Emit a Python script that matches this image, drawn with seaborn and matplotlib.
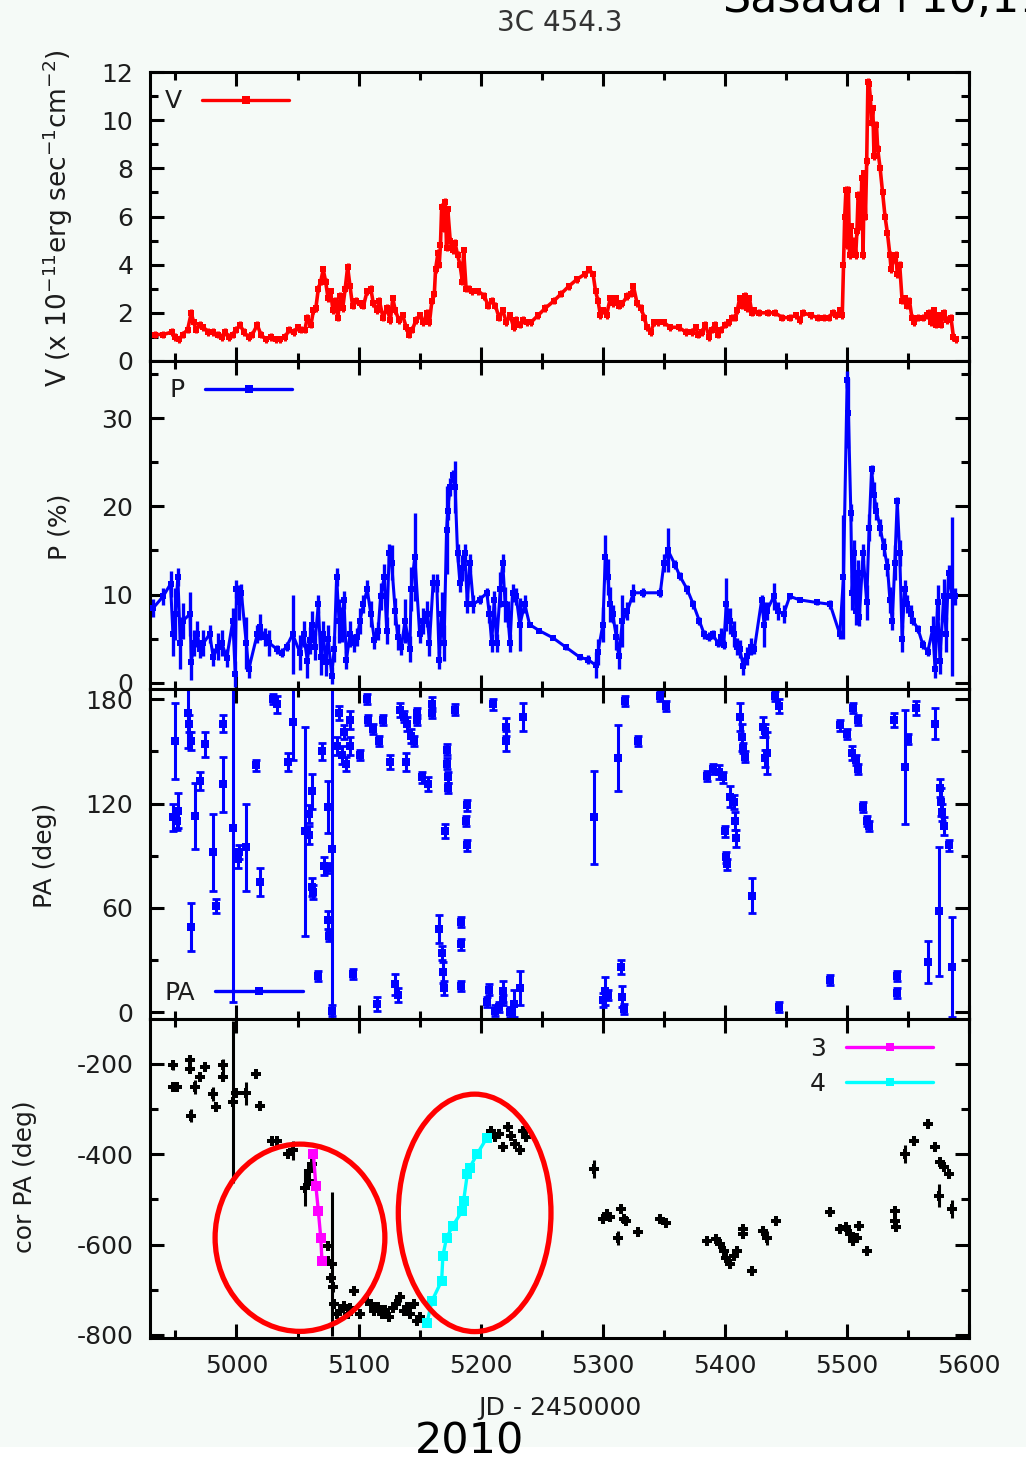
import numpy as np
import pandas as pd
import matplotlib
matplotlib.use('Agg')
import matplotlib.pyplot as plt
import seaborn as sns
from matplotlib.patches import Ellipse, Rectangle
from matplotlib.ticker import MultipleLocator
from matplotlib.lines import Line2D

# ---------------- data ----------------
v_jd = [4933, 4940, 4947, 4950, 4953, 4956, 4960, 4963, 4965, 4967,
        4970, 4973, 4977, 4981, 4985, 4988, 4991, 4994, 4997, 5000,
        5003, 5006, 5010, 5013, 5017, 5020, 5024, 5028, 5032, 5036,
        5040, 5043, 5047, 5050, 5053, 5056, 5058, 5061, 5063, 5065,
        5067, 5069, 5071, 5073, 5075, 5077, 5079, 5081, 5083, 5085,
        5087, 5089, 5091, 5093, 5095, 5098, 5101, 5104, 5107, 5110,
        5112, 5115, 5117, 5120, 5123, 5126, 5128, 5130, 5133, 5136,
        5139, 5141, 5144, 5147, 5150, 5153, 5156, 5158, 5160, 5162,
        5163, 5165, 5166, 5167, 5168, 5170, 5171, 5172, 5173, 5175,
        5177, 5179, 5181, 5183, 5185, 5186, 5188, 5190, 5193, 5198,
        5203, 5206, 5209, 5212, 5215, 5218, 5221, 5224, 5227, 5229,
        5232, 5235, 5238, 5241, 5247, 5253, 5260, 5266, 5272, 5279,
        5285, 5289, 5292, 5294, 5296, 5298, 5300, 5303, 5306, 5308,
        5311, 5313, 5316, 5320, 5323, 5325, 5328, 5331, 5334, 5336,
        5339, 5342, 5345, 5350, 5355, 5362, 5368, 5373, 5376, 5378,
        5381, 5384, 5387, 5389, 5392, 5394, 5397, 5400, 5403, 5406,
        5408, 5410, 5412, 5414, 5416, 5418, 5420, 5422, 5424, 5428,
        5435, 5441, 5447, 5453, 5458, 5461, 5464, 5470, 5476, 5481,
        5485, 5488, 5491, 5494, 5496, 5497, 5498, 5499, 5500, 5501,
        5502, 5503, 5504, 5506, 5507, 5508, 5509, 5510, 5511, 5512,
        5513, 5514, 5515, 5516, 5517, 5518, 5519, 5520, 5521, 5522,
        5524, 5525, 5527, 5529, 5531, 5533, 5535, 5536, 5538, 5540,
        5541, 5543, 5545, 5547, 5549, 5551, 5553, 5555, 5558, 5562,
        5565, 5567, 5569, 5571, 5573, 5575, 5577, 5579, 5582, 5585,
        5587, 5589]
v_val = [1.1, 1.1, 1.2, 1.0, 0.9, 1.1, 1.3, 2.0, 1.6, 1.3,
         1.5, 1.4, 1.2, 1.2, 1.1, 1.0, 1.2, 1.0, 1.1, 1.3,
         1.5, 1.2, 1.0, 1.1, 1.5, 1.1, 0.9, 1.0, 0.9, 0.9,
         1.0, 1.3, 1.2, 1.4, 1.3, 1.3, 1.8, 1.5, 2.1, 2.2,
         3.0, 3.3, 3.8, 3.3, 2.6, 2.9, 2.1, 2.5, 1.8, 2.7,
         2.2, 3.0, 3.9, 3.1, 2.3, 2.5, 2.4, 2.3, 2.9, 3.0,
         2.4, 2.1, 2.5, 1.8, 2.2, 1.7, 2.6, 2.1, 1.7, 1.9,
         1.4, 1.1, 1.3, 1.7, 1.9, 1.6, 2.0, 1.6, 2.5, 2.8,
         3.8, 4.5, 4.0, 4.8, 6.4, 5.5, 6.6, 4.7, 6.3, 5.0,
         4.6, 4.9, 4.4, 4.0, 3.3, 4.6, 3.0, 3.0, 2.9, 2.9,
         2.7, 2.3, 2.5, 2.3, 1.8, 2.1, 1.6, 1.9, 1.4, 1.7,
         1.5, 1.7, 1.6, 1.6, 1.9, 2.2, 2.5, 2.8, 3.1, 3.4,
         3.6, 3.8, 3.6, 2.9, 2.5, 1.9, 2.1, 1.9, 2.6, 2.4,
         2.6, 2.3, 2.4, 2.7, 2.8, 3.1, 2.4, 2.2, 1.8, 1.4,
         1.2, 1.6, 1.6, 1.6, 1.4, 1.4, 1.2, 1.2, 1.4, 1.1,
         1.2, 1.5, 1.0, 1.3, 1.5, 1.1, 1.3, 1.5, 1.6, 1.8,
         1.8, 2.1, 2.6, 2.3, 2.7, 2.2, 2.6, 2.0, 2.1, 2.0,
         2.0, 2.0, 1.8, 1.8, 1.9, 1.7, 2.0, 1.9, 1.8, 1.8,
         1.8, 2.0, 1.9, 2.1, 1.9, 4.0, 6.0, 7.1, 4.8, 7.1,
         4.4, 5.6, 4.5, 5.0, 4.4, 5.4, 6.9, 6.8, 5.6, 7.6,
         4.4, 7.8, 6.0, 8.3, 11.6, 11.5, 10.9, 9.9, 10.5, 8.5,
         9.8, 8.8, 8.0, 7.0, 6.0, 5.3, 4.4, 3.8, 4.2, 4.4,
         3.6, 4.0, 2.5, 2.6, 2.3, 2.5, 1.8, 1.6, 1.8, 1.8,
         1.9, 2.0, 1.6, 2.1, 1.5, 1.9, 1.5, 2.0, 1.7, 1.8,
         1.0, 0.9]

p_jd = [4932, 4940, 4946, 4948, 4950, 4952, 4954, 4956, 4962, 4963,
        4965, 4968, 4970, 4973, 4978, 4981, 4985, 4988, 4992, 4997,
        4999, 5000, 5002, 5004, 5008, 5010, 5017, 5019, 5023, 5027,
        5033, 5037, 5041, 5046, 5052, 5055, 5058, 5060, 5062, 5064,
        5067, 5069, 5071, 5073, 5075, 5078, 5080, 5082, 5084, 5086,
        5088, 5090, 5093, 5096, 5099, 5101, 5104, 5107, 5110, 5113,
        5116, 5118, 5121, 5123, 5125, 5127, 5130, 5132, 5135, 5138,
        5142, 5143, 5146, 5150, 5153, 5156, 5158, 5161, 5164, 5166,
        5168, 5170, 5172, 5173, 5175, 5177, 5179, 5181, 5183, 5185,
        5187, 5189, 5191, 5194, 5199, 5205, 5207, 5209, 5211, 5213,
        5216, 5218, 5220, 5222, 5224, 5226, 5229, 5232, 5236, 5240,
        5248, 5259, 5270, 5281, 5288, 5294, 5296, 5300, 5302, 5304,
        5306, 5308, 5311, 5313, 5316, 5320, 5325, 5333, 5347, 5350,
        5353, 5359, 5363, 5369, 5374, 5379, 5383, 5387, 5390, 5394,
        5397, 5399, 5401, 5404, 5407, 5410, 5412, 5415, 5418, 5421,
        5424, 5430, 5432, 5434, 5440, 5443, 5448, 5453, 5461, 5475,
        5486, 5494, 5497, 5500, 5501, 5503, 5504, 5506, 5507, 5509,
        5510, 5513, 5516, 5518, 5520, 5522, 5524, 5527, 5530, 5533,
        5535, 5537, 5539, 5541, 5543, 5545, 5547, 5549, 5552, 5554,
        5558, 5562, 5566, 5570, 5572, 5574, 5576, 5579, 5581, 5583,
        5586, 5588]
p_val = [8.5, 9.8, 11.2, 5.5, 7.8, 12.0, 4.5, 7.0, 7.8, 2.3,
         4.5, 5.5, 3.8, 4.5, 5.5, 2.9, 4.1, 4.5, 2.8, 7.0,
         1.0, 10.6, 9.1, 10.2, 4.5, 1.5, 5.5, 6.3, 5.2, 4.5,
         3.8, 3.4, 4.1, 5.5, 3.4, 5.5, 2.5, 4.8, 6.6, 4.1,
         8.9, 2.9, 5.5, 2.3, 5.0, 0.8, 3.8, 12.0, 7.0, 6.6,
         9.4, 2.6, 5.5, 4.5, 5.2, 7.0, 8.9, 10.6, 7.8, 4.8,
         5.9, 9.8, 12.0, 5.9, 14.7, 13.6, 8.1, 5.2, 4.1, 7.0,
         3.8, 10.6, 14.3, 5.5, 7.0, 7.8, 4.5, 11.3, 11.3, 2.6,
         7.8, 4.5, 17.3, 19.5, 22.2, 23.6, 22.2, 14.7, 11.3, 13.0,
         14.7, 8.9, 13.6, 8.9, 9.4, 10.2, 7.8, 4.5, 9.4, 4.5,
         10.6, 13.6, 8.9, 7.8, 4.5, 10.2, 9.8, 6.6, 8.9, 6.6,
         5.9, 5.1, 4.0, 2.9, 2.6, 2.0, 3.5, 6.6, 14.3, 12.0,
         8.9, 7.8, 5.2, 3.0, 7.0, 8.1, 10.2, 10.2, 10.2, 13.6,
         15.1, 13.4, 12.1, 10.6, 8.9, 7.0, 5.5, 5.2, 5.5, 4.5,
         5.2, 4.3, 8.9, 7.0, 5.5, 4.1, 3.8, 1.9, 3.0, 4.1,
         3.8, 9.4, 6.6, 8.1, 9.8, 8.1, 7.8, 9.8, 9.4, 9.1,
         8.9, 5.5, 12.0, 34.4, 30.6, 19.3, 10.2, 14.7, 8.1, 12.4,
         7.4, 14.7, 9.1, 17.6, 24.2, 21.3, 19.5, 17.6, 15.4, 13.1,
         9.4, 7.0, 13.6, 20.6, 14.7, 5.0, 10.6, 8.9, 7.8, 7.0,
         6.1, 4.3, 3.5, 6.1, 1.5, 9.1, 2.5, 9.8, 5.5, 12.4,
         9.8, 9.8]
p_err = [1.0, 1.0, 1.5, 2.5, 3.0, 1.0, 3.0, 2.0, 2.5, 2.0,
         1.5, 1.5, 1.0, 1.5, 1.0, 1.0, 1.5, 1.5, 1.0, 1.5,
         1.5, 1.0, 2.0, 1.0, 3.0, 1.0, 1.0, 1.5, 1.0, 1.5,
         0.5, 0.5, 0.5, 4.5, 2.0, 1.5, 2.0, 1.5, 1.5, 1.5,
         1.0, 2.0, 1.5, 1.5, 1.5, 1.0, 1.5, 1.0, 2.5, 2.0,
         1.0, 1.0, 1.5, 1.0, 1.0, 1.5, 1.0, 1.0, 1.5, 1.0,
         1.0, 1.5, 1.5, 1.5, 1.0, 2.0, 1.5, 1.5, 1.0, 2.5,
         1.5, 2.5, 5.0, 1.0, 1.5, 1.5, 1.5, 1.0, 1.0, 1.0,
         2.5, 2.0, 5.0, 1.0, 1.0, 0.5, 3.0, 1.0, 1.0, 1.5,
         1.0, 1.0, 1.0, 1.0, 0.5, 0.5, 1.0, 1.0, 1.0, 1.0,
         2.0, 1.0, 2.0, 1.5, 1.0, 1.0, 1.0, 3.0, 1.0, 0.3,
         0.3, 0.3, 0.3, 0.3, 0.5, 1.5, 1.5, 2.0, 2.5, 2.0,
         2.0, 1.0, 1.5, 1.5, 3.0, 1.0, 1.0, 0.5, 0.5, 1.0,
         2.5, 0.5, 0.5, 0.5, 0.5, 0.5, 0.5, 0.5, 0.5, 0.5,
         1.0, 0.5, 3.0, 1.5, 1.5, 1.0, 1.0, 1.0, 1.0, 1.0,
         0.5, 0.5, 2.5, 1.0, 1.5, 1.0, 1.0, 0.3, 0.3, 0.3,
         0.5, 0.5, 7.0, 1.0, 4.0, 1.0, 2.0, 1.5, 1.5, 1.5,
         1.0, 1.0, 2.0, 1.5, 0.5, 1.5, 1.0, 1.0, 1.0, 1.0,
         1.5, 1.0, 2.0, 0.5, 1.5, 1.5, 1.0, 1.0, 1.0, 0.5,
         0.5, 0.5, 0.5, 1.5, 1.0, 2.0, 1.5, 2.0, 2.0, 1.0,
         9.0, 1.0]

pa_jd = [4948, 4950, 4951, 4952, 4960, 4961, 4963, 4963, 4966, 4970,
         4974, 4981, 4983, 4989, 4989, 4997, 5001, 5002, 5008, 5016,
         5019, 5030, 5033, 5042, 5046, 5056, 5059, 5059, 5062, 5062,
         5063, 5067, 5070, 5072, 5074, 5075, 5075, 5076, 5078, 5078,
         5082, 5084, 5086, 5088, 5090, 5093, 5093, 5095, 5101, 5107,
         5108, 5112, 5115, 5117, 5120, 5126, 5130, 5132, 5134, 5137,
         5139, 5140, 5143, 5145, 5148, 5148, 5152, 5157, 5160, 5160,
         5166, 5168, 5169, 5170, 5171, 5172, 5172, 5173, 5173, 5179,
         5184, 5184, 5184, 5188, 5189, 5189, 5205, 5207, 5210, 5212,
         5215, 5218, 5218, 5221, 5221, 5224, 5227, 5232, 5235, 5293,
         5300, 5302, 5304, 5312, 5315, 5316, 5317, 5318, 5329, 5347,
         5352, 5385, 5390, 5395, 5398, 5400, 5401, 5402, 5404, 5407,
         5408, 5409, 5412, 5414, 5415, 5416, 5422, 5431, 5433, 5433,
         5434, 5441, 5444, 5444, 5486, 5494, 5500, 5504, 5505, 5507,
         5509, 5509, 5513, 5516, 5518, 5538, 5541, 5541, 5547, 5550,
         5556, 5566, 5572, 5575, 5576, 5577, 5578, 5579, 5583, 5586]
pa_val = [112, 156, 110, 116, 172, 166, 156, 49, 113, 133,
          154, 92, 61, 166, 131, 106, 88, 92, 95, 142,
          75, 180, 177, 144, 167, 104, 114, 102, 127, 72,
          69, 21, 150, 84, 83, 118, 53, 44, 94, 1,
          153, 172, 148, 161, 143, 168, 153, 22, 148, 180,
          168, 163, 5, 156, 168, 144, 16, 10, 174, 170,
          144, 166, 159, 156, 172, 168, 135, 131, 177, 172,
          48, 34, 23, 14, 104, 151, 143, 135, 129, 174,
          52, 39, 15, 110, 119, 96, 6, 13, 177, 1,
          3, 7, 12, 164, 156, 0, 5, 14, 170, 112,
          7, 12, 10, 146, 26, 9, 2, 179, 156, 182,
          176, 136, 140, 138, 135, 104, 89, 85, 124, 121,
          110, 100, 170, 158, 152, 147, 67, 164, 162, 146,
          149, 182, 176, 3, 18.5, 165, 160, 149, 175, 145,
          168, 140, 118, 110, 107, 168, 21, 11, 141, 157,
          175, 29, 166, 58, 129, 121, 115, 107, 96, 26]
pa_err = [8, 22, 5, 10, 20, 5, 5, 14, 19, 5,
          7, 22, 4, 5, 16, 100, 5, 4, 25, 3,
          8, 3, 5, 5, 22, 60, 5, 5, 10, 5,
          4, 3, 5, 5, 3, 15, 5, 3, 100, 3,
          5, 4, 5, 4, 4, 5, 5, 3, 3, 3,
          3, 3, 4, 3, 3, 4, 6, 4, 4, 3,
          5, 4, 4, 3, 3, 3, 3, 4, 4, 3,
          8, 4, 6, 4, 4, 3, 3, 3, 3, 3,
          3, 3, 3, 3, 3, 3, 3, 3, 3, 3,
          3, 3, 6, 5, 6, 3, 8, 10, 8, 27,
          4, 8, 3, 19, 4, 6, 3, 3, 3, 3,
          3, 3, 3, 4, 3, 3, 3, 3, 6, 4,
          5, 5, 8, 8, 3, 3, 10, 6, 4, 5,
          12, 3, 4, 3, 3, 3, 3, 4, 3, 3,
          3, 3, 3, 3, 3, 4, 3, 3, 33, 3,
          4, 12, 9, 37, 5, 8, 5, 5, 3, 29]

cor_jd = [4948, 4948, 4951, 4962, 4962, 4963, 4966, 4970, 4974, 4981,
          4983, 4989, 4989, 4997, 5000, 5008, 5016, 5019, 5029, 5033,
          5042, 5046, 5056, 5059, 5059, 5062, 5075, 5075, 5078, 5077,
          5079, 5080, 5082, 5085, 5088, 5091, 5093, 5096, 5101, 5107,
          5110, 5113, 5116, 5119, 5122, 5125, 5128, 5131, 5134, 5137,
          5140, 5142, 5145, 5148, 5150, 5208, 5212, 5215, 5218, 5222,
          5225, 5228, 5232, 5235, 5237, 5293, 5300, 5303, 5306, 5312,
          5315, 5317, 5319, 5329, 5347, 5352, 5385, 5393, 5396, 5399,
          5401, 5404, 5407, 5410, 5415, 5415, 5422, 5431, 5434, 5442,
          5486, 5494, 5499, 5502, 5505, 5508, 5510, 5516, 5539, 5539,
          5540, 5547, 5555, 5566, 5572, 5576, 5579, 5583, 5575, 5586]
cor_val = [-204, -252, -252, -193, -211, -315, -252, -230, -208, -267,
           -297, -204, -230, -285, -266, -266, -223, -293, -370, -370,
           -400, -392, -474, -437, -459, -422, -603, -636, -643, -673,
           -695, -731, -753, -746, -735, -753, -740, -703, -753, -725,
           -731, -746, -738, -753, -745, -761, -740, -731, -717, -746,
           -738, -753, -731, -768, -760, -348, -363, -355, -385, -341,
           -359, -378, -392, -348, -363, -433, -544, -533, -540, -585,
           -522, -544, -548, -573, -544, -552, -592, -588, -599, -614,
           -629, -643, -625, -614, -566, -577, -658, -570, -585, -548,
           -529, -566, -562, -577, -592, -585, -559, -614, -525, -548,
           -562, -400, -370, -333, -385, -418, -429, -444, -492, -521]
cor_err = [10, 5, 5, 8, 5, 15, 15, 5, 5, 15,
           5, 15, 8, 180, 8, 25, 5, 5, 5, 5,
           5, 20, 40, 8, 8, 8, 10, 8, 160, 8,
           10, 10, 8, 8, 8, 8, 5, 5, 5, 5,
           5, 5, 5, 5, 5, 5, 5, 5, 10, 5,
           5, 5, 5, 5, 5, 5, 8, 5, 5, 5,
           5, 5, 5, 5, 5, 20, 5, 8, 5, 15,
           8, 5, 5, 5, 5, 5, 5, 5, 5, 8,
           5, 8, 8, 5, 5, 5, 5, 10, 15, 5,
           5, 5, 5, 5, 5, 5, 5, 5, 5, 8,
           5, 20, 5, 10, 5, 5, 5, 5, 25, 20]

seq3_jd = [5063, 5065, 5067, 5069, 5070]
seq3_val = [-400, -470, -525, -585, -636]
seq3_err = [8, 8, 8, 8, 8]

seq4_jd = [5156, 5160, 5168, 5169, 5172, 5177, 5185, 5186, 5189, 5191, 5197, 5205]
seq4_val = [-773, -725, -680, -625, -585, -559, -525, -503, -444, -430, -400, -364]
seq4_err = [8, 8, 8, 8, 8, 8, 8, 8, 8, 8, 8, 8]

x_ticks = [5000, 5100, 5200, 5300, 5400, 5500, 5600]

# ---------------- style ----------------
sns.set_style('ticks')
BG = '#f5faf7'
TXT = '#1c1c1c'
plt.rcParams['font.family'] = ['DejaVu Sans']
plt.rcParams['mathtext.fontset'] = 'dejavusans'
plt.rcParams['axes.unicode_minus'] = False

fig = plt.figure(figsize=(10.26, 14.62), dpi=100, facecolor=BG)
H = 1462.0
L, W = 150 / 1026, 819.3 / 1026


def box(top, bot):
    return [L, 1 - bot / H, W, (bot - top) / H]


ax1 = fig.add_axes(box(72, 361))
ax2 = fig.add_axes(box(361, 689.3), sharex=ax1)
ax3 = fig.add_axes(box(689.3, 1018.5), sharex=ax1)
ax4 = fig.add_axes(box(1019.3, 1337.7), sharex=ax1)
axes = [ax1, ax2, ax3, ax4]

# ---- V ----
ax1.errorbar(v_jd, v_val, yerr=0.15, fmt='none', ecolor='#ff0000', elinewidth=2.2, capsize=0, zorder=2)
sns.lineplot(x=v_jd, y=v_val, ax=ax1, color='#ff0000', lw=2.6, marker='s', markersize=5,
             markeredgewidth=0, estimator=None, sort=False, zorder=3)

# ---- P ----
ax2.errorbar(p_jd, p_val, yerr=p_err, fmt='none', ecolor='#0000ff', elinewidth=2.4, capsize=0, zorder=2)
sns.lineplot(x=p_jd, y=p_val, ax=ax2, color='#0000ff', lw=2.2, marker='s', markersize=5,
             markeredgewidth=0, estimator=None, sort=False, zorder=3)

# ---- PA ----
ax3.errorbar(pa_jd, pa_val, yerr=pa_err, fmt='none', ecolor='#0000ff', elinewidth=2.2, capsize=3, capthick=2.0, zorder=2)
sns.scatterplot(x=pa_jd, y=pa_val, ax=ax3, color='#0000ff', marker='s', s=34, linewidth=0, zorder=3)

# ---- cor PA ----
ax4.errorbar(cor_jd, cor_val, yerr=cor_err, fmt='none', ecolor='black', elinewidth=2.2, capsize=0, zorder=2)
sns.scatterplot(x=cor_jd, y=cor_val, ax=ax4, color='black', marker='P', s=50, linewidth=0, zorder=3)
ax4.errorbar(seq3_jd, seq3_val, yerr=seq3_err, fmt='none', ecolor='#ff00ff', elinewidth=2.2, capsize=0, zorder=4)
sns.lineplot(x=seq3_jd, y=seq3_val, ax=ax4, color='#ff00ff', lw=2.4, marker='s', markersize=6.5,
             markeredgewidth=0, estimator=None, sort=False, zorder=5)
ax4.errorbar(seq4_jd, seq4_val, yerr=seq4_err, fmt='none', ecolor='#00ffff', elinewidth=2.2, capsize=0, zorder=4)
sns.lineplot(x=seq4_jd, y=seq4_val, ax=ax4, color='#00ffff', lw=2.4, marker='s', markersize=6.5,
             markeredgewidth=0, estimator=None, sort=False, zorder=5)

# highlight ellipses
ax4.add_patch(Ellipse((5052, -585), width=139, height=414, fill=False, ec='#ff0000', lw=3.8, zorder=8, clip_on=False))
ax4.add_patch(Ellipse((5195, -530), width=125, height=525, fill=False, ec='#ff0000', lw=3.8, zorder=8, clip_on=False))

# ---- axes formatting ----
ylims = [(0, 12), (-0.75, 36.5), (-3.6, 185.7), (-806, -102)]
ymaj = [2, 10, 60, 200]
ymin = [1, 5, 30, 100]
for ax, yl, mj, mn in zip(axes, ylims, ymaj, ymin):
    ax.set_facecolor(BG)
    ax.set_xlim(4929.2, 5600)
    ax.set_ylim(*yl)
    ax.xaxis.set_major_locator(MultipleLocator(100))
    ax.xaxis.set_minor_locator(MultipleLocator(50))
    ax.yaxis.set_major_locator(MultipleLocator(mj))
    ax.yaxis.set_minor_locator(MultipleLocator(mn))
    ax.tick_params(which='both', direction='in', top=True, right=True, width=2.2, color='black',
                   labelsize=18, labelcolor=TXT, pad=12)
    ax.tick_params(which='major', length=10)
    ax.tick_params(which='minor', length=6)
    for s in ax.spines.values():
        s.set_linewidth(2.2)
        s.set_color('black')
        s.set_visible(True)
    ax.set_xlabel('')
    ax.set_ylabel('')
    ax.grid(False)
for ax in [ax1, ax2, ax3]:
    ax.tick_params(labelbottom=False)
ax4.set_xticks(x_ticks)

# ---- legends ----
def handle(c):
    return Line2D([], [], color=c, lw=2.4, marker='s', ms=6, mec=c, mew=0)


leg_kw = dict(frameon=False, markerfirst=False, handlelength=3.5, handletextpad=0.8,
              borderaxespad=0, borderpad=0, fontsize=18, numpoints=1, labelcolor=TXT)
ax1.legend([handle('#ff0000')], ['V'], loc='upper left', bbox_to_anchor=(0.018, 0.94), **leg_kw)
ax2.legend([handle('#0000ff')], ['P'], loc='upper left', bbox_to_anchor=(0.024, 0.947), **leg_kw)
ax3.legend([handle('#0000ff')], ['PA'], loc='lower left', bbox_to_anchor=(0.018, 0.042), **leg_kw)
ax4.legend([handle('#ff00ff'), handle('#00ffff')], ['3', '4'], loc='upper right',
           bbox_to_anchor=(0.956, 0.944), labelspacing=0.42, **leg_kw)

# ---- labels / texts ----
fs = 18
fig.text(58 / 1026, 1 - 218 / H, 'V (x 10$^{-11}$erg sec$^{-1}$cm$^{-2}$)', rotation=90,
         ha='center', va='center', fontsize=19, color=TXT)
fig.text(60 / 1026, 1 - 527 / H, 'P (%)', rotation=90, ha='center', va='center', fontsize=fs, color=TXT)
fig.text(45 / 1026, 1 - 855 / H, 'PA (deg)', rotation=90, ha='center', va='center', fontsize=fs, color=TXT)
fig.text(25 / 1026, 1 - 1177 / H, 'cor PA (deg)', rotation=90, ha='center', va='center', fontsize=fs, color=TXT)
fig.text(560 / 1026, 1 - 1408 / H, 'JD - 2450000', ha='center', va='center', fontsize=fs, color=TXT)
fig.text(560 / 1026, 1 - 23 / H, '3C 454.3', ha='center', va='center', fontsize=20, color='#333333')
fig.text(722 / 1026, 1 - 12 / H, 'Sasada+10,11', ha='left', va='baseline', fontsize=32, color='black')

fig.add_artist(Rectangle((0, 0), 1, 15 / H, transform=fig.transFigure, facecolor='white',
                         edgecolor='none', zorder=1))
fig.text(470 / 1026, 1 - 1453 / H, '2010', ha='center', va='baseline', fontsize=31, color='black', zorder=5)

fig.savefig('out.png', dpi=100, facecolor=BG)
